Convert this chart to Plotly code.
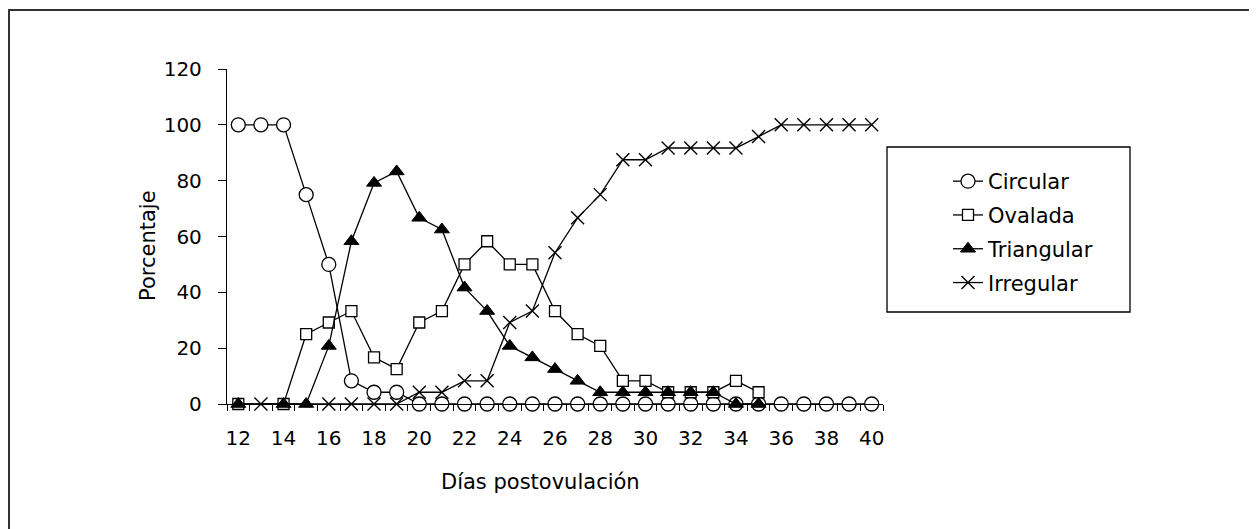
import plotly.graph_objects as go

days = list(range(12, 41))
x_labels = [str(d) for d in range(12, 41, 2)]
y_ticks = [0, 20, 40, 60, 80, 100, 120]

N = None
circular = [100, 100, 100, 75, 50, 8.3, 4.2, 4.2, 0, 0, 0, 0, 0, 0, 0, 0, 0, 0, 0, 0,
            0, 0, 0, 0, 0, 0, 0, 0, 0]
ovalada = [0, N, 0, 25, 29.2, 33.3, 16.7, 12.5, 29.2, 33.3, 50, 58.3, 50, 50, 33.3, 25,
           20.8, 8.3, 8.3, 4.2, 4.2, 4.2, 8.3, 4.2, N, N, N, N, N]
triangular = [0, N, 0, 0, 20.8, 58.3, 79.2, 83.3, 66.7, 62.5, 41.7, 33.3, 20.8, 16.7, 12.5,
              8.3, 4.2, 4.2, 4.2, 4.2, 4.2, 4.2, 0, 0, N, N, N, N, N]
irregular = [N, 0, N, N, 0, 0, 0, 0, 4.2, 4.2, 8.3, 8.3, 29.2, 33.3, 54.2, 66.7, 75, 87.5,
             87.5, 91.7, 91.7, 91.7, 91.7, 95.8, 100, 100, 100, 100, 100]

series = [
    ("Circular", circular, dict(symbol="circle", size=14, color="white",
                                line=dict(color="black", width=1.3))),
    ("Ovalada", ovalada, dict(symbol="square", size=11, color="white",
                              line=dict(color="black", width=1.3))),
    ("Triangular", triangular, dict(symbol="triangle-up", size=13, color="black",
                                    line=dict(color="black", width=1))),
    ("Irregular", irregular, dict(symbol="x-thin", size=13, color="black",
                                  line=dict(color="black", width=1.4))),
]

FONT = "DejaVu Sans, Verdana, sans-serif"
fig = go.Figure()
for name, vals, mk in series:
    fig.add_trace(go.Scatter(
        x=days, y=vals, name=name, mode="lines+markers", connectgaps=True,
        line=dict(color="black", width=1.3), marker=mk, legendgroup=name,
        cliponaxis=False,
    ))

OFF = 8  # page body offset
W, H = 1257 - OFF, 529 - OFF
PL, PR, PT, PB = 227, 883, 69, 404  # plot area in screen pixels
L, T = PL - OFF, PT - OFF
pw, ph = PR - PL, PB - PT
R, B = W - L - pw, H - T - ph

def px_x(p):
    return (p - PL) / pw

def px_y(p):
    return (PB - p) / ph

fig.update_layout(
    width=W, height=H,
    margin=dict(l=L, r=R, t=T, b=B),
    paper_bgcolor="white", plot_bgcolor="white",
    font=dict(family=FONT, size=20, color="black"),
    showlegend=True,
    legend=dict(
        x=px_x(948), y=px_y(161), xanchor="left", yanchor="top",
        bgcolor="rgba(0,0,0,0)", borderwidth=0,
        font=dict(family=FONT, size=21, color="black"),
        tracegroupgap=3.5, itemwidth=30,
    ),
    xaxis=dict(
        range=[11.5, 40.5], tickmode="array",
        tickvals=[int(v) for v in x_labels], ticktext=x_labels,
        ticks="", showgrid=False, zeroline=False,
        showline=True, linecolor="black", linewidth=1.3,
        layer="above traces", ticklabelstandoff=16,
        tickfont=dict(family=FONT, size=20),
        minor=dict(ticks="outside", tick0=11.5, dtick=1, ticklen=6,
                   tickcolor="black", tickwidth=1.3, showgrid=False),
        automargin=False,
    ),
    yaxis=dict(
        range=[0, 120], tickmode="array", tickvals=y_ticks,
        ticks="outside", ticklen=8, tickcolor="black", tickwidth=1.3,
        showgrid=False, zeroline=False,
        showline=True, linecolor="black", linewidth=1.3,
        layer="above traces", ticklabelstandoff=12,
        tickfont=dict(family=FONT, size=20),
        automargin=False,
    ),
    annotations=[
        dict(text="Días postovulación", xref="paper", yref="paper",
             x=px_x(540), y=px_y(482), xanchor="center", yanchor="middle",
             showarrow=False, font=dict(family=FONT, size=21)),
        dict(text="Porcentaje", xref="paper", yref="paper",
             x=px_x(148), y=px_y(246), xanchor="center", yanchor="middle",
             textangle=-90, showarrow=False, font=dict(family=FONT, size=21)),
    ],
    shapes=[
        dict(type="rect", xref="paper", yref="paper",
             x0=px_x(9), x1=px_x(1270), y0=px_y(545), y1=px_y(10),
             line=dict(color="#333333", width=2), fillcolor="rgba(0,0,0,0)",
             layer="below"),
        dict(type="rect", xref="paper", yref="paper",
             x0=px_x(887), x1=px_x(1130), y0=px_y(312), y1=px_y(147),
             line=dict(color="black", width=1.3), fillcolor="white",
             layer="below"),
    ],
)

fig.write_html("out.html")
